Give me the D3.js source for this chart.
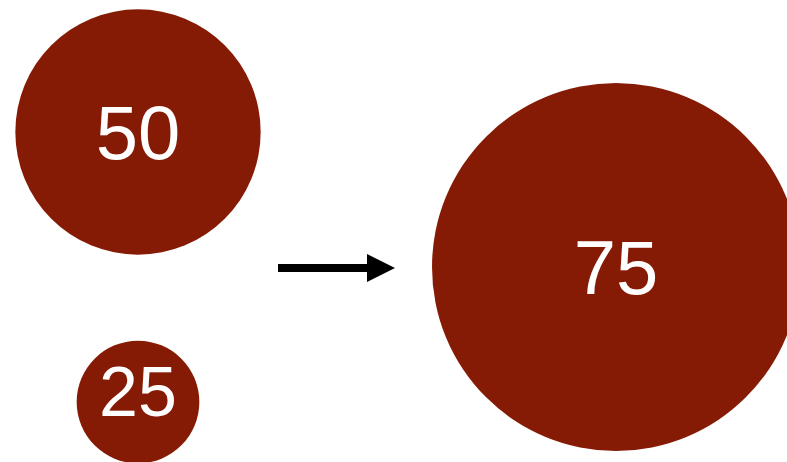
<!DOCTYPE html>
<html>
<head>
<meta charset="utf-8">
<script src="https://cdn.jsdelivr.net/npm/d3@7"></script>
<style>
  html, body { margin: 0; padding: 0; background: #fff; }
  svg { display: block; }
</style>
</head>
<body>
<svg id="chart"></svg>
<script>
// data
const inputValues = [50, 25];
const sumValue = [75];
const groups = ["inputs", "sum"];

const W = 787, H = 462;
const RED = "#861b05";

const svg = d3.select("#chart").attr("width", W).attr("height", H);

// radius proportional to value
const rScale = d3.scaleLinear().domain([0, 75]).range([0, 184]);
const xScale = d3.scalePoint().domain(groups).range([138, 616]);
const yInputs = d3.scalePoint().domain(inputValues).range([132, 402]);

const circles = [
    ...inputValues.map(v => ({value: v, group: "inputs", y: yInputs(v)})),
    ...sumValue.map(v => ({value: v, group: "sum", y: 267}))
];

const g = svg.selectAll("g.bubble").data(circles).join("g")
    .attr("class", "bubble")
    .attr("transform", d => `translate(${xScale(d.group)},${d.y})`);

g.append("circle")
    .attr("r", d => rScale(d.value))
    .attr("fill", RED);

g.append("text")
    .attr("text-anchor", "middle")
    .attr("dy", d => d.value === 25 ? "0.28em" : "0.36em")
    .attr("y", d => d.value === 25 ? -6 : 0)
    .attr("fill", "#fff")
    .attr("font-family", "Liberation Sans, Arial, sans-serif")
    .attr("font-size", d => d.value === 25 ? 70 : 76)
    .text(d => d.value);

// arrow
const ax0 = 278, ax1 = 395, ay = 268;
svg.append("line")
    .attr("x1", ax0).attr("x2", ax1 - 24)
    .attr("y1", ay).attr("y2", ay)
    .attr("stroke", "#000").attr("stroke-width", 8);
svg.append("path")
    .attr("d", `M${ax1 - 28},${ay - 14} L${ax1},${ay} L${ax1 - 28},${ay + 14} Z`)
    .attr("fill", "#000");
</script>
</body>
</html>
